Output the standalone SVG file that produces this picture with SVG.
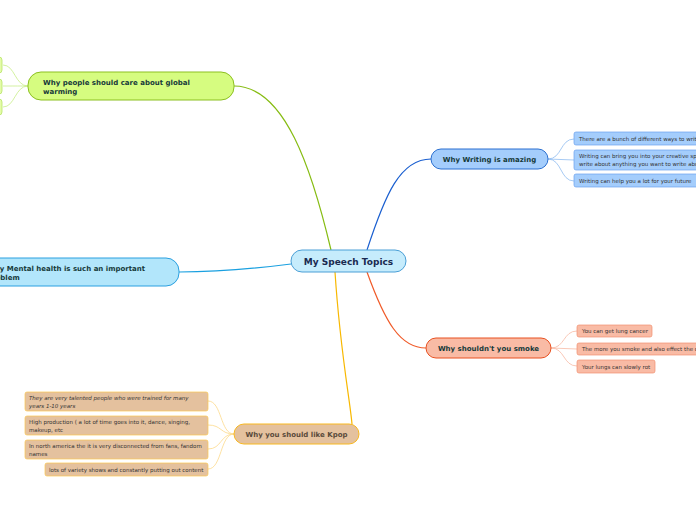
<svg xmlns="http://www.w3.org/2000/svg" width="696" height="520" viewBox="0 0 696 520">
<style>
text{font-family:"DejaVu Sans",Verdana,sans-serif}
.main{font-weight:bold;font-size:7px;fill:#163a3a}
.sub{font-size:5.5px;fill:#333}
.c{fill:none;stroke-width:1.2}
.cc{fill:none;stroke-width:0.8}
</style>
<rect width="696" height="520" fill="#fff"/>
<g id="connectors">
<path class="c" stroke="#86bc12" d="M234,86 C285,86 312,170 331,250"/>
<path class="c" stroke="#1a5fd0" d="M367,250 C385,195 400,159 431,159"/>
<path class="c" stroke="#f05a28" d="M367,272 C385,322 400,348 426,348"/>
<path class="c" stroke="#1aa0e0" d="M179,272 C220,272 260,268 291,264"/>
<path class="c" stroke="#f8b800" d="M335,272 C340,350 350,400 352,424"/>
<path class="cc" stroke="#c8ee88" d="M28,86 C15,86 15,65 3,65 M28,86 C15,86 15,86 3,86 M28,86 C15,86 15,107 3,107"/>
<path class="cc" stroke="#90bcf0" d="M548,159 C562,159 560,139 574,139 M548,159 L574,160 M548,159 C562,159 560,181 574,181"/>
<path class="cc" stroke="#f8baa4" d="M551,348 C565,348 563,331 577,331 M551,348 L577,349 M551,348 C565,348 563,366 577,366"/>
<path class="cc" stroke="#fcd98a" d="M234,434 C220,434 222,401 208,401 M234,434 C220,434 222,425 208,425 M234,434 C220,434 222,449 208,449 M234,434 C220,434 222,469 208,469"/>
</g>
<g id="center">
<rect x="291" y="250" width="115" height="22" rx="11" fill="#c6ecfc" stroke="#4a9fd6"/>
<text x="348.5" y="264.5" text-anchor="middle" font-weight="bold" font-size="9px" fill="#1a2a50">My Speech Topics</text>
</g>
<g id="global-warming">
<rect x="28" y="72" width="206" height="28" rx="13" fill="#d6fc80" stroke="#8cc020"/>
<text class="main" x="43" y="85">Why people should care about global</text>
<text class="main" x="43" y="93.5">warming</text>
</g>
<g id="gw-children">
<rect x="-200" y="57" width="202" height="16" rx="3" fill="#e4fca8" stroke="#b8e468" stroke-width="0.8"/>
<rect x="-200" y="79" width="202" height="15" rx="3" fill="#e4fca8" stroke="#b8e468" stroke-width="0.8"/>
<rect x="-200" y="99" width="202" height="16" rx="3" fill="#e4fca8" stroke="#b8e468" stroke-width="0.8"/>
</g>
<g id="mental-health">
<rect x="-40" y="258" width="219" height="28" rx="13" fill="#b2e6fb" stroke="#2aa0e0"/>
<text class="main" x="-13" y="271">Why Mental health is such an important</text>
<text class="main" x="-13" y="279.5">problem</text>
</g>
<g id="writing">
<rect x="431" y="149" width="117" height="20" rx="10" fill="#a4cdfc" stroke="#2a6fd0"/>
<text class="main" x="489.5" y="161.5" text-anchor="middle">Why Writing is amazing</text>
</g>
<g id="writing-children">
<rect x="574" y="132" width="130" height="13" rx="2" fill="#a4cdfc" stroke="#6aa0ee" stroke-width="0.7"/>
<text class="sub" x="579" y="140.5">There are a bunch of different ways to write</text>
<rect x="574" y="150" width="130" height="20" rx="2" fill="#a4cdfc" stroke="#6aa0ee" stroke-width="0.7"/>
<text class="sub" x="579" y="158">Writing can bring you into your creative space and</text>
<text class="sub" x="579" y="165.5">write about anything you want to write about</text>
<rect x="574" y="174" width="130" height="13" rx="2" fill="#a4cdfc" stroke="#6aa0ee" stroke-width="0.7"/>
<text class="sub" x="579" y="182.5">Writing can help you a lot for your future</text>
</g>
<g id="smoke">
<rect x="426" y="338" width="125" height="20" rx="10" fill="#f9bba5" stroke="#e85020"/>
<text class="main" x="488.5" y="350.5" text-anchor="middle">Why shouldn't you smoke</text>
</g>
<g id="smoke-children">
<rect x="577" y="325" width="75" height="12" rx="2" fill="#f9bba5" stroke="#f09070" stroke-width="0.7"/>
<text class="sub" x="582" y="333">You can get lung cancer</text>
<rect x="577" y="343" width="130" height="12" rx="2" fill="#f9bba5" stroke="#f09070" stroke-width="0.7"/>
<text class="sub" x="582" y="351">The more you smoke and also effect the others</text>
<rect x="577" y="360" width="78" height="13" rx="2" fill="#f9bba5" stroke="#f09070" stroke-width="0.7"/>
<text class="sub" x="582" y="368.5">Your lungs can slowly rot</text>
</g>
<g id="kpop">
<rect x="234" y="424" width="125" height="20" rx="10" fill="#e4c19e" stroke="#f8b820"/>
<text class="main" x="296.5" y="436.5" text-anchor="middle" style="fill:#5a4a3a">Why you should like Kpop</text>
</g>
<g id="kpop-children">
<rect x="25" y="392" width="183" height="19" rx="2" fill="#e4c19e" stroke="#fcc850" stroke-width="0.7"/>
<text class="sub" x="29" y="400" font-style="italic">They are very talented people who were trained for many</text>
<text class="sub" x="29" y="407.5" font-style="italic">years 1-10 years</text>
<rect x="25" y="416" width="183" height="19" rx="2" fill="#e4c19e" stroke="#fcc850" stroke-width="0.7"/>
<text class="sub" x="29" y="424">High production ( a lot of time goes into it, dance, singing,</text>
<text class="sub" x="29" y="431.5">makeup, etc</text>
<rect x="25" y="440" width="183" height="19" rx="2" fill="#e4c19e" stroke="#fcc850" stroke-width="0.7"/>
<text class="sub" x="29" y="448">In north america the it is very disconnected from fans, fandom</text>
<text class="sub" x="29" y="455.5">names</text>
<rect x="45" y="463" width="163" height="13" rx="2" fill="#e4c19e" stroke="#fcc850" stroke-width="0.7"/>
<text class="sub" x="49" y="471.5">lots of variety shows and constantly putting out content</text>
</g>
</svg>
